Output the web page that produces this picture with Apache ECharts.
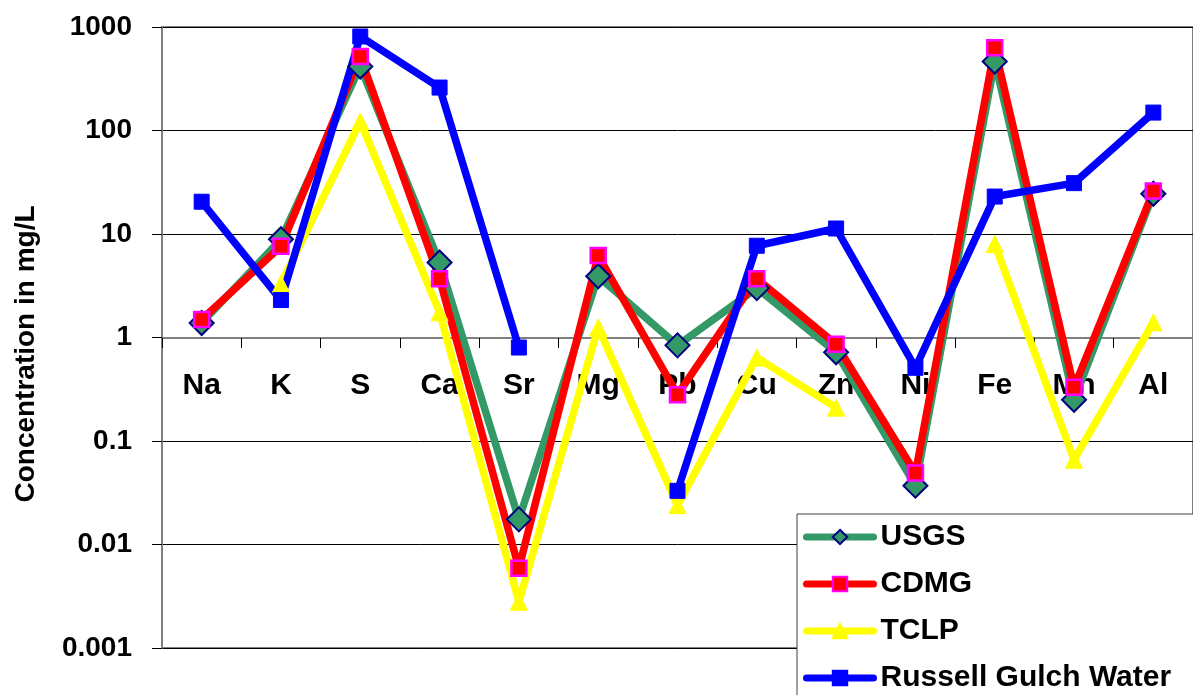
<!DOCTYPE html>
<html>
<head>
<meta charset="utf-8">
<title>Concentration in mg/L</title>
<script src="https://cdn.jsdelivr.net/npm/echarts@6/dist/echarts.min.js"></script>
<style>
  html, body { margin: 0; padding: 0; background: #fff; }
  #chart { width: 1193px; height: 695px; }
</style>
</head>
<body>
<div id="chart"></div>
<script>
// Elements along the category axis
const elements = ['Na', 'K', 'S', 'Ca', 'Sr', 'Mg', 'Pb', 'Cu', 'Zn', 'Ni', 'Fe', 'Mn', 'Al'];

// Concentrations in mg/L (null = not measured)
const usgs    = [1.38, 8.9, 415, 5.3, 0.0175, 3.9, 0.84, 3.0, 0.72, 0.037, 464, 0.25, 24.5];
const cdmg    = [1.49, 7.6, 519, 3.7, 0.0059, 6.2, 0.28, 3.7, 0.86, 0.049, 630, 0.33, 26];
const tclp    = [null, 3.3, 122, 1.75, 0.0028, 1.25, 0.024, 0.64, 0.21, null, 8.0, 0.066, 1.4];
const russell = [20.5, 2.3, 810, 260, 0.80, null, 0.033, 7.7, 11.3, 0.51, 23, 31, 149];

const FONT = "'Liberation Sans', Arial, sans-serif";

const chart = echarts.init(document.getElementById('chart'), null, { renderer: 'canvas' });

function lineSeries(name, data, color, symbol, size, fill, border, borderWidth) {
  return {
    name: name,
    type: 'line',
    data: data,
    connectNulls: false,
    symbol: symbol,
    symbolSize: size,
    showAllSymbol: true,
    lineStyle: { color: color, width: 7.5, cap: 'round', join: 'round' },
    itemStyle: { color: fill, borderColor: border, borderWidth: borderWidth },
    emphasis: { disabled: true }
  };
}

chart.setOption({
  animation: false,
  backgroundColor: '#fff',
  grid: {
    left: 162, top: 27, width: 1042, height: 621,
    show: true, borderColor: '#808080', borderWidth: 2, backgroundColor: 'transparent'
  },
  legend: {
    orient: 'vertical',
    left: 797, top: 514,
    width: 420,
    height: 240,
    padding: [8, 40, 20, 6],
    itemGap: 17,
    itemWidth: 67,
    itemHeight: 18,
    backgroundColor: '#fff',
    borderColor: '#404040',
    borderWidth: 1,
    borderRadius: 0,
    lineStyle: { width: 7, cap: 'round' },
    textStyle: { fontFamily: FONT, fontWeight: 'bold', fontSize: 30, color: '#000', padding: [0, 0, 0, 2] },
    data: ['USGS', 'CDMG', 'TCLP', 'Russell Gulch Water']
  },
  xAxis: {
    type: 'category',
    data: elements,
    boundaryGap: true,
    position: 'bottom',
    offset: -310,
    axisLine: { show: true, lineStyle: { color: '#808080', width: 2 } },
    axisTick: { show: true, length: 10, lineStyle: { color: '#000', width: 1 } },
    axisLabel: { fontFamily: FONT, fontWeight: 'bold', fontSize: 30, color: '#000', margin: 33 },
    splitLine: { show: false }
  },
  yAxis: {
    type: 'log',
    logBase: 10,
    min: 0.001,
    max: 1000,
    axisLine: { show: true, lineStyle: { color: '#808080', width: 2 } },
    axisTick: { show: true, length: 10, inside: false, lineStyle: { color: '#000', width: 1 } },
    axisLabel: {
      fontFamily: FONT, fontWeight: 'bold', fontSize: 28, color: '#000', margin: 30,
      formatter: function (v) { return String(Number(Number(v).toPrecision(1))); }
    },
    splitLine: { show: true, lineStyle: { color: '#000', width: 1 } }
  },
  graphic: [{
    type: 'text',
    x: 26, y: 354,
    rotation: Math.PI / 2,
    style: {
      text: 'Concentration in mg/L',
      fontFamily: FONT, fontWeight: 'bold', fontSize: 28, fill: '#000',
      align: 'center', verticalAlign: 'middle'
    }
  }],
  series: [
    lineSeries('USGS', usgs, '#339966', 'diamond', 24, '#339966', '#000080', 2),
    lineSeries('CDMG', cdmg, '#ff0000', 'rect', 15, '#ff0000', '#ff00ff', 2.5),
    lineSeries('TCLP', tclp, '#ffff00', 'triangle', 17, '#ffff00', '#ffff00', 1),
    lineSeries('Russell Gulch Water', russell, '#0000ff', 'rect', 15, '#0000ff', '#0000ff', 1)
  ]
});
</script>
</body>
</html>
